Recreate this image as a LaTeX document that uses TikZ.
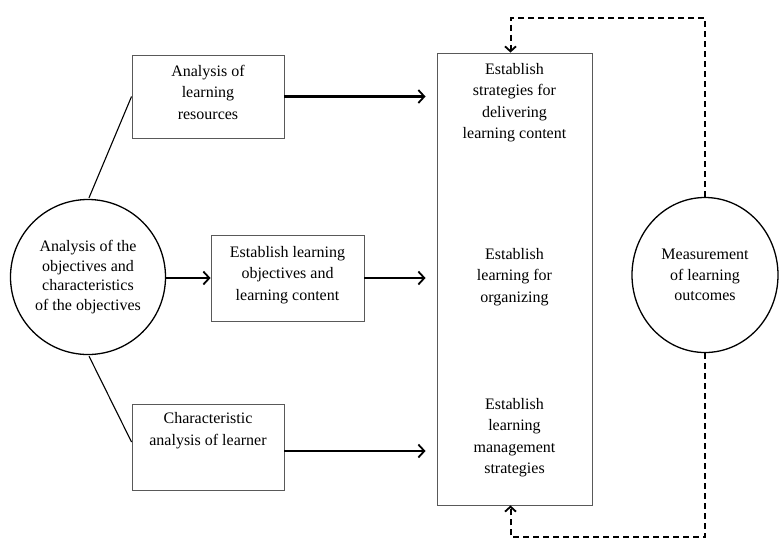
\documentclass[tikz,border=0pt]{standalone}
\usepackage{fontspec}
\setmainfont{Liberation Serif}
\usetikzlibrary{arrows.meta,calc,shapes.geometric}
\begin{document}
\begin{tikzpicture}[x=1pt,y=-1pt,
  txt/.style={font=\fontsize{16}{21.5}\selectfont, align=center, inner sep=0pt},
  boxnode/.style={draw=black!65, line width=0.9pt, rectangle, inner sep=0pt},
  circnode/.style={draw=black, line width=1.3pt, circle, inner sep=0pt, font=\fontsize{16}{19.5}\selectfont, align=center},
  ellnode/.style={draw=black, line width=1.3pt, ellipse, inner sep=0pt, font=\fontsize{16}{20.5}\selectfont, align=center},
  arr/.style={line width=2.3pt, -{Straight Barb[length=6pt,width=13pt,line width=1.8pt]}},
  link/.style={line width=1.1pt},
  dashlink/.style={line width=2pt, dash pattern=on 6pt off 4pt},
  darr/.style={dashlink, -{Straight Barb[length=5pt,width=11pt,line width=1.8pt]}}
]
\useasboundingbox (0,0) rectangle (779,539);

% left circle
\node[circnode, minimum size=155pt] (oc) at (88,277) {Analysis of the\\objectives and\\characteristics\\of the objectives};

% boxes
\node[boxnode, minimum width=152pt, minimum height=83pt] (b1) at (208,96.5) {};
\node[txt] (t1) at (208,92) {Analysis of\\learning\\resources};

\node[boxnode, minimum width=153pt, minimum height=86pt] (b2) at (287.5,278) {};
\node[txt] (t2) at (287.5,275) {Establish learning\\objectives and\\learning content};

\node[boxnode, minimum width=152pt, minimum height=86pt] (b3) at (208,447) {};
\node[txt] (t3) at (208,430.5) {Characteristic\\analysis of learner};

% big box
\node[boxnode, minimum width=155pt, minimum height=452pt] (big) at (514.5,279) {};
\node[txt] (g1) at (514.5,102.5) {Establish\\strategies for\\delivering\\learning content};
\node[txt] (g2) at (514.5,277) {Establish\\learning for\\organizing};
\node[txt] (g3) at (514.5,437.5) {Establish\\learning\\management\\strategies};

% right circle
\node[ellnode, minimum width=146pt, minimum height=155pt] (mc) at (705,275) {Measurement\\of learning\\outcomes};

% connectors
\draw[link] (oc.north) ++(1,-1) coordinate (ocn) -- (b1.west);
\draw[link] (oc.south) ++(1,1) coordinate (ocs) -- ($(b3.west)+(0,-5)$);
\draw[arr] (oc.east |- b2.west) -- (b2.west);
\draw[arr, shorten >=11pt] (b1.east) -- (b1.east -| big.west);
\draw[arr, shorten >=11pt] (b2.east) -- (b2.east -| big.west);
\draw[arr, shorten >=11pt] ($(b3.east)+(0,4)$) -- ($(b3.east -| big.west)+(0,4)$);

% feedback dashed loops
\coordinate (topr) at (705,18);
\coordinate (botr) at (705,537);
\draw[darr] (mc.north) -- (topr) -| ($(big.north)+(-4,0)$);
\draw[darr] (mc.south) -- (botr) -| ($(big.south)+(-4,0)$);
\end{tikzpicture}
\end{document}
